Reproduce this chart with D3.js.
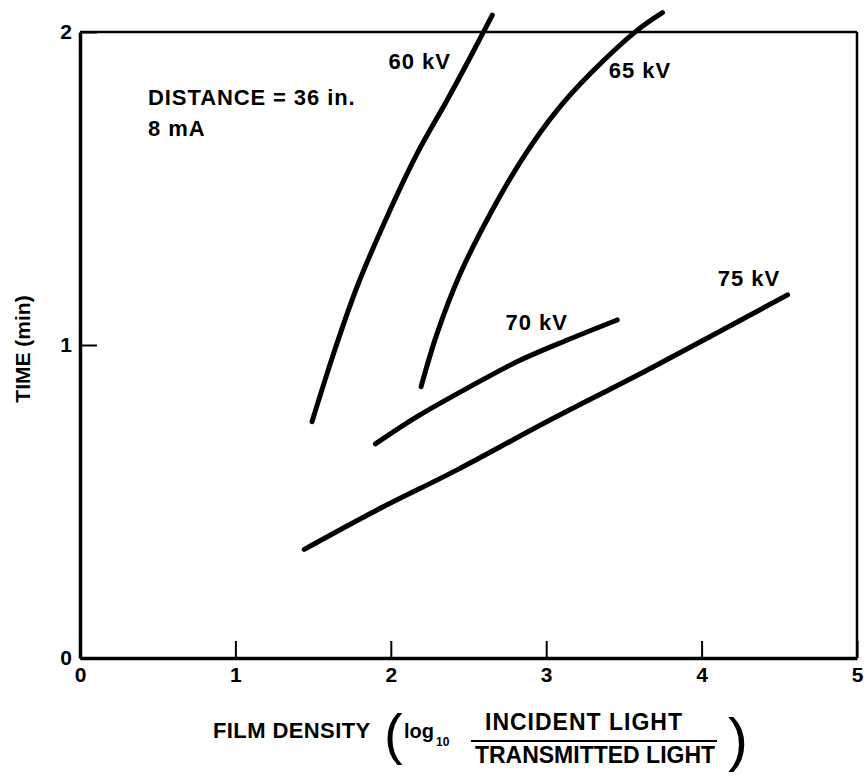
<!DOCTYPE html>
<html>
<head>
<meta charset="utf-8">
<script src="https://cdn.jsdelivr.net/npm/d3@7"></script>
<style>
	body { margin: 0; background: #fff; }
	svg text { font-family: "Liberation Sans", Arial, sans-serif; font-weight: bold; fill: #000; }
	.axis path, .axis line { stroke: #000; }
</style>
</head>
<body>
<svg id="chart" width="868" height="776"></svg>
<script>
// Data
const xTicks = [0, 1, 2, 3, 4, 5];
const yTicks = [0, 1, 2];

const kv60_x = [1.493, 1.632, 1.783, 1.976, 2.170, 2.363, 2.513, 2.653];
const kv60_y = [0.755, 0.973, 1.186, 1.410, 1.612, 1.783, 1.921, 2.054];

const kv65_x = [2.195, 2.298, 2.448, 2.642, 2.856, 3.072, 3.286, 3.587, 3.748];
const kv65_y = [0.867, 1.037, 1.229, 1.421, 1.602, 1.751, 1.868, 2.006, 2.062];

const kv70_x = [1.901, 2.169, 2.470, 2.814, 3.136, 3.457];
const kv70_y = [0.684, 0.771, 0.856, 0.947, 1.016, 1.080];

const kv75_x = [1.443, 1.912, 2.427, 2.985, 3.673, 4.553];
const kv75_y = [0.347, 0.473, 0.601, 0.750, 0.926, 1.160];

// curve labels, anchored in data units
const labelNames = ["60 kV", "65 kV", "70 kV", "75 kV"];
const labelX = [1.985, 3.402, 2.738, 4.104];
const labelY = [1.882, 1.853, 1.048, 1.188];

const noteLines = ["DISTANCE = 36 in.", "8 mA"];

function whenDocumentLoaded(action) {
	if (document.readyState === "loading") {
		document.addEventListener("DOMContentLoaded", action);
	} else {
		action();
	}
}

whenDocumentLoaded(() => {

	const svg = d3.select("#chart");

	const x = d3.scaleLinear().domain([0, 5]).range([80, 857]);
	const y = d3.scaleLinear().domain([0, 2]).range([658, 32]);

	// frame: top and right sides
	svg.append("line")
		.attr("x1", x(0)).attr("x2", x(5))
		.attr("y1", y(2)).attr("y2", y(2))
		.attr("stroke", "#000").attr("stroke-width", 2.5);
	svg.append("line")
		.attr("x1", x(5)).attr("x2", x(5))
		.attr("y1", y(2)).attr("y2", y(0))
		.attr("stroke", "#000").attr("stroke-width", 2.5);

	// axes, ticks pointing inward
	const xAxis = svg.append("g")
		.attr("class", "axis")
		.attr("transform", `translate(0,${y(0)})`)
		.call(d3.axisBottom(x).tickValues(xTicks).tickFormat(d3.format("d"))
			.tickSize(-17).tickSizeOuter(0).tickPadding(9));
	xAxis.select(".domain").attr("stroke-width", 3.5);
	xAxis.selectAll(".tick line").attr("stroke-width", 2);
	xAxis.selectAll("text").style("font-size", "21px");

	const yAxis = svg.append("g")
		.attr("class", "axis")
		.attr("transform", `translate(${x(0)},0)`)
		.call(d3.axisLeft(y).tickValues(yTicks).tickFormat(d3.format("d"))
			.tickSize(-17).tickSizeOuter(0).tickPadding(8));
	yAxis.select(".domain").attr("stroke-width", 3.5);
	yAxis.selectAll(".tick line").attr("stroke-width", 2);
	yAxis.selectAll("text").style("font-size", "21px");

	// curves
	const series = [
		{ xs: kv60_x, ys: kv60_y },
		{ xs: kv65_x, ys: kv65_y },
		{ xs: kv70_x, ys: kv70_y },
		{ xs: kv75_x, ys: kv75_y }
	];

	const line = d3.line()
		.x(d => x(d[0]))
		.y(d => y(d[1]))
		.curve(d3.curveCatmullRom.alpha(0.5));

	svg.append("g")
		.selectAll("path")
		.data(series)
		.enter()
		.append("path")
			.attr("d", s => line(s.xs.map((v, i) => [v, s.ys[i]])))
			.attr("fill", "none")
			.attr("stroke", "#000")
			.attr("stroke-width", 5)
			.attr("stroke-linecap", "round");

	svg.append("g")
		.selectAll("text")
		.data(labelNames)
		.enter()
		.append("text")
			.text(d => d)
			.attr("x", (d, i) => x(labelX[i]))
			.attr("y", (d, i) => y(labelY[i]))
			.attr("font-size", 22)
			.attr("letter-spacing", 1);

	// note in upper left
	svg.append("g")
		.selectAll("text")
		.data(noteLines)
		.enter()
		.append("text")
			.text(d => d)
			.attr("x", x(0.438))
			.attr("y", (d, i) => y(1.767) + i * 31)
			.attr("font-size", 22)
			.attr("letter-spacing", 0.9);

	// y axis title
	svg.append("text")
		.text("TIME (min)")
		.attr("transform", "translate(30,349) rotate(-90)")
		.attr("text-anchor", "middle")
		.attr("font-size", 21);

	// x axis title with the fraction
	const xt = svg.append("g");
	xt.append("text")
		.text("FILM DENSITY")
		.attr("x", 213).attr("y", 738)
		.attr("font-size", 22)
		.attr("letter-spacing", 0.4);
	xt.append("text")
		.text("(")
		.attr("x", 384).attr("y", 753)
		.attr("font-size", 56)
		.style("font-weight", "normal");
	xt.append("text")
		.text("log")
		.attr("x", 404).attr("y", 738)
		.attr("font-size", 20);
	xt.append("text")
		.text("10")
		.attr("x", 436).attr("y", 746)
		.attr("font-size", 12);
	xt.append("text")
		.text("INCIDENT LIGHT")
		.attr("x", 584).attr("y", 730)
		.attr("text-anchor", "middle")
		.attr("font-size", 23)
		.attr("letter-spacing", 1);
	xt.append("line")
		.attr("x1", 471).attr("x2", 717)
		.attr("y1", 741).attr("y2", 741)
		.attr("stroke", "#000").attr("stroke-width", 2);
	xt.append("text")
		.text("TRANSMITTED LIGHT")
		.attr("x", 595).attr("y", 763)
		.attr("text-anchor", "middle")
		.attr("font-size", 23);
	xt.append("text")
		.text(")")
		.attr("x", 728).attr("y", 760)
		.attr("font-size", 60)
		.style("font-weight", "normal");
});
</script>
</body>
</html>
